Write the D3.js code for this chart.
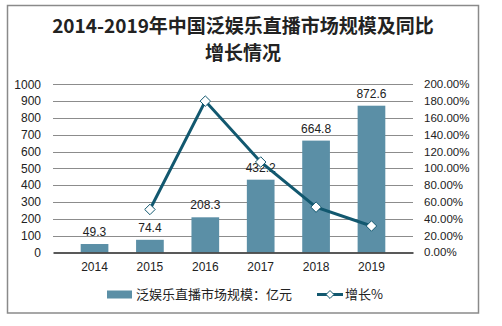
<!DOCTYPE html>
<html><head><meta charset="utf-8">
<script src="https://cdn.jsdelivr.net/npm/d3@7"></script>
<style>body{margin:0;background:#fff;}svg{display:block;font-family:Arial,"Liberation Sans","Noto Sans CJK SC",sans-serif;}</style>
</head><body><svg id="c" width="502" height="326"></svg>
<script>
const years = ["2014","2015","2016","2017","2018","2019"];
const marketSize = [49.3, 74.4, 208.3, 432.2, 664.8, 872.6];
const growth = [null, 51.0, 180.0, 107.5, 53.8, 31.3];
const leftTicks = [0,100,200,300,400,500,600,700,800,900,1000];
const rightTicks = [0,20,40,60,80,100,120,140,160,180,200];
const titleLines = ["2014-2019年中国泛娱乐直播市场规模及同比","增长情况"];
const legendLabels = ["泛娱乐直播市场规模：亿元","增长%"];

const svg = d3.select("#c");
const barColor = "#5b8fa6", lineColor = "#12586f";
svg.append("rect").attr("x",7.5).attr("y",5.5).attr("width",471).attr("height",307.5)
  .attr("fill","#fff").attr("stroke","#8a8a8a").attr("stroke-width",1.5);

const title = svg.append("text").attr("text-anchor","middle").attr("font-weight","bold")
  .attr("font-size",19).attr("fill","#222").attr("font-family","'Noto Sans CJK SC',sans-serif");
titleLines.forEach((t,i)=>title.append("tspan").attr("x",243).attr("y",33+i*27).text(t));

const x = d3.scaleBand().domain(years).range([53,413]).padding(0.5);
const y = d3.scaleLinear().domain([0,1000]).range([252.3,84.3]);
const y2 = d3.scaleLinear().domain([0,200]).range([252.3,84.3]);

// gridlines
svg.append("g").selectAll("line").data(leftTicks.filter(d=>d>0)).join("line")
  .attr("x1",53).attr("x2",413).attr("y1",d=>Math.round(y(d))+0.5).attr("y2",d=>Math.round(y(d))+0.5)
  .attr("stroke","#8c8c8c").attr("stroke-width",1);

// left axis
const gl = svg.append("g").attr("transform","translate(53,0)")
  .call(d3.axisLeft(y).tickValues(leftTicks).tickSize(0).tickPadding(12).tickFormat(d3.format("d")));
gl.select(".domain").remove();
gl.selectAll("text").attr("font-size",12).attr("fill","#222").attr("font-family","Arial,'Liberation Sans',sans-serif");

// right axis
const gr = svg.append("g").attr("transform","translate(413,0)")
  .call(d3.axisRight(y2).tickValues(rightTicks).tickSize(0).tickPadding(11).tickFormat(d=>d.toFixed(2)+"%"));
gr.select(".domain").remove();
gr.selectAll("text").attr("font-size",11.5).attr("fill","#222").attr("font-family","Arial,'Liberation Sans',sans-serif");

// bars
svg.append("g").selectAll("rect").data(years).join("rect")
  .attr("x",d=>x(d)).attr("width",x.bandwidth())
  .attr("y",(d,i)=>y(marketSize[i])).attr("height",(d,i)=>y(0)-y(marketSize[i]))
  .attr("fill",barColor);

// x axis
const gx = svg.append("g").attr("transform","translate(0,252.5)")
  .call(d3.axisBottom(x).tickSize(0).tickPadding(10));
gx.select(".domain").attr("stroke","#222").attr("stroke-width",1.3);
gx.selectAll("text").attr("font-size",12).attr("fill","#222").attr("font-family","Arial,'Liberation Sans',sans-serif");

// bar labels
svg.append("g").selectAll("text").data(years).join("text")
  .attr("x",d=>x(d)+x.bandwidth()/2).attr("y",(d,i)=>y(marketSize[i])-8)
  .attr("text-anchor","middle").attr("font-size",12).attr("fill","#222")
  .text((d,i)=>marketSize[i]);

// line
const pts = years.map((d,i)=>({yr:d,v:growth[i]})).filter(p=>p.v!=null);
const line = d3.line().x(p=>x(p.yr)+x.bandwidth()/2).y(p=>y2(p.v));
svg.append("path").datum(pts).attr("d",line).attr("fill","none")
  .attr("stroke",lineColor).attr("stroke-width",3);
const diamond = d3.symbol().type(d3.symbolDiamond2).size(70);
svg.append("g").selectAll("path").data(pts).join("path")
  .attr("d",diamond).attr("transform",p=>`translate(${x(p.yr)+x.bandwidth()/2},${y2(p.v)})`)
  .attr("fill","#fff").attr("stroke",lineColor).attr("stroke-width",1);

// legend
const lg = svg.append("g");
lg.append("rect").attr("x",107).attr("y",290.5).attr("width",25).attr("height",8).attr("fill",barColor);
lg.append("text").attr("x",136).attr("y",299).attr("font-size",13).attr("fill","#222")
  .attr("font-family","'Noto Sans CJK SC',sans-serif").text(legendLabels[0]);
lg.append("line").attr("x1",317).attr("x2",343).attr("y1",294.5).attr("y2",294.5)
  .attr("stroke",lineColor).attr("stroke-width",3);
lg.append("path").attr("d",d3.symbol().type(d3.symbolDiamond2).size(40))
  .attr("transform","translate(330,294.5)").attr("fill","#fff").attr("stroke",lineColor).attr("stroke-width",1);
lg.append("text").attr("x",345).attr("y",299).attr("font-size",13).attr("fill","#222")
  .attr("font-family","'Noto Sans CJK SC',sans-serif").text(legendLabels[1]);
</script></body></html>
